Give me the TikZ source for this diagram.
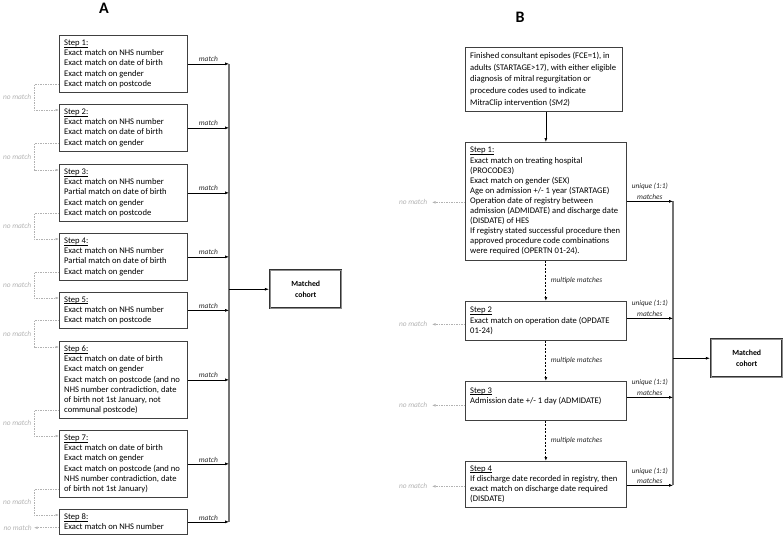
\documentclass[tikz,border=0pt]{standalone}
\usepackage{fontspec}
\setmainfont{Carlito}
\usetikzlibrary{arrows.meta,calc}
\newcommand{\stepul}[1]{\sbox0{#1}\rlap{\rule[-1.4pt]{\wd0}{0.45pt}}\usebox0}
\begin{document}
\begin{tikzpicture}[x=1pt,y=-1pt,
  box/.style={draw=black!75, line width=0.7pt, rectangle, anchor=north west, inner sep=0pt},
  txt/.style={anchor=west, align=left, inner xsep=5pt, inner ysep=0pt, font=\fontsize{8.6}{10.1}\selectfont},
  txtwide/.style={txt, font=\fontsize{8.6}{11.6}\selectfont},
  lab/.style={font=\fontsize{7.4}{10.5}\selectfont\itshape, inner sep=1.5pt},
  nmlab/.style={lab, text=black!30},
  arr/.style={-{Latex[length=4pt,width=3pt]}, line width=0.6pt, draw=black},
  darr/.style={arr, dash pattern=on 2pt off 1.5pt, line width=0.8pt},
  nm/.style={-{Latex[length=3.5pt,width=2.5pt]}, draw=black!30, line width=0.5pt, dash pattern=on 1.5pt off 1pt},
  spine/.style={draw=black!55, line width=1.2pt},
  cohort/.style={draw=black!80, line width=0.5pt, double=black!45, double distance=1.4pt, minimum width=71pt, minimum height=38pt, anchor=north west, align=center, font=\fontsize{7.8}{11}\selectfont\bfseries},
  panel/.style={font=\fontsize{16}{16}\selectfont\bfseries}
]
\useasboundingbox (0,0) rectangle (784,535);

% ---------------- Panel A ----------------
\node[panel] (labA) at (104,8) {A};

\node[box, minimum width=128pt, minimum height=57pt] (a1) at (59,35) {};
\node[txt] (a1t) at (a1.west) {\stepul{Step 1:}\\Exact match on NHS number\\Exact match on date of birth\\Exact match on gender\\Exact match on postcode};
\node[box, minimum width=128pt, minimum height=47pt] (a2) at (59,104) {};
\node[txt] (a2t) at (a2.west) {\stepul{Step 2:}\\Exact match on NHS number\\Exact match on date of birth\\Exact match on gender};
\node[box, minimum width=128pt, minimum height=57pt] (a3) at (59,164) {};
\node[txt] (a3t) at (a3.west) {\stepul{Step 3:}\\Exact match on NHS number\\Partial match on date of birth\\Exact match on gender\\Exact match on postcode};
\node[box, minimum width=128pt, minimum height=47pt] (a4) at (59,233) {};
\node[txt] (a4t) at (a4.west) {\stepul{Step 4:}\\Exact match on NHS number\\Partial match on date of birth\\Exact match on gender};
\node[box, minimum width=128pt, minimum height=36pt] (a5) at (59,292) {};
\node[txt] (a5t) at (a5.west) {\stepul{Step 5:}\\Exact match on NHS number\\Exact match on postcode};
\node[box, minimum width=128pt, minimum height=77pt] (a6) at (59,341) {};
\node[txt] (a6t) at (a6.west) {\stepul{Step 6:}\\Exact match on date of birth\\Exact match on gender\\Exact match on postcode (and no\\NHS number contradiction, date\\of birth not 1st January, not\\communal postcode)};
\node[box, minimum width=128pt, minimum height=67pt] (a7) at (59,430) {};
\node[txt] (a7t) at (a7.west) {\stepul{Step 7:}\\Exact match on date of birth\\Exact match on gender\\Exact match on postcode (and no\\NHS number contradiction, date\\of birth not 1st January)};
\node[box, minimum width=128pt, minimum height=25pt] (a8) at (59,509) {};
\node[txt] (a8t) at (a8.west) {\stepul{Step 8:}\\Exact match on NHS number};

\node[cohort] (mA) at (270,270) {Matched\\cohort};

\coordinate (vA) at (229,0);
\draw[spine] (a1.east -| vA) -- (a8.east -| vA);
\foreach \i in {1,...,8}
  \draw[arr] (a\i.east) -- (a\i.east -| vA) node[midway, above, lab, text=black!85] {match};
\draw[arr, shorten >=1.2pt] (mA.west -| vA) -- (mA.west);

\foreach \i/\j in {1/2,2/3,3/4,4/5,5/6,6/7,7/8}
  \draw[nm] ([yshift=8pt]a\i.south west) -- ++(-25,0) |- ([yshift=-6pt]a\j.north west)
    node[pos=0.25, nmlab, left=1pt] {no match};
\draw[nm] ([yshift=7pt]a8.south west) -- ++(-25,0) node[nmlab, left=0.5pt] {no match};

% ---------------- Panel B ----------------
\node[panel] (labB) at (520,17) {B};

\node[box, minimum width=157pt, minimum height=64pt] (fce) at (465,47) {};
\node[txtwide] (fcet) at (fce.west) {Finished consultant episodes (FCE=1), in\\adults (STARTAGE>17), with either eligible\\diagnosis of mitral regurgitation or\\procedure codes used to indicate\\MitraClip intervention (\textit{SM2})};

\node[box, minimum width=161pt, minimum height=118pt] (b1) at (465,142) {};
\node[txt] (b1t) at (b1.west) {\stepul{Step 1:}\\Exact match on treating hospital\\(PROCODE3)\\Exact match on gender (SEX)\\Age on admission +/- 1 year (STARTAGE)\\Operation date of registry between\\admission (ADMIDATE) and discharge date\\(DISDATE) of HES\\If registry stated successful procedure then\\approved procedure code combinations\\were required (OPERTN 01-24).};
\node[box, minimum width=161pt, minimum height=39pt] (b2) at (465,301) {};
\node[txt] (b2t) at (b2.west) {\stepul{Step 2}\\Exact match on operation date (OPDATE\\01-24)};
\node[box, minimum width=161pt, minimum height=39pt] (b3) at (465,381) {};
\node[txt] (b3t) at (b3.west) {\stepul{Step 3}\\Admission date +/- 1 day (ADMIDATE)\\~};
\node[box, minimum width=161pt, minimum height=46pt] (b4) at (465,461) {};
\node[txt] (b4t) at (b4.west) {\stepul{Step 4}\\If discharge date recorded in registry, then\\exact match on discharge date required\\(DISDATE)};

\node[cohort] (mB) at (711,339) {Matched\\cohort};

\draw[arr] (fce.south -| b1.north) -- (b1.north);
\draw[darr] (b1.south) -- (b2.north) node[midway, right=3pt, lab, text=black!85] {multiple matches};
\draw[darr] (b2.south) -- (b3.north) node[midway, right=3pt, lab, text=black!85] {multiple matches};
\draw[darr] (b3.south) -- (b4.north) node[midway, right=3pt, lab, text=black!85] {multiple matches};

\coordinate (vB) at (673,0);
\coordinate (e1) at (b1.east);
\coordinate (e2) at ([yshift=2.5pt]b2.east);
\coordinate (e3) at ([yshift=3.5pt]b3.east);
\coordinate (e4) at ([yshift=-1pt]b4.east);
\draw[spine] (e1 -| vB) -- (e4 -| vB);
\foreach \i in {1,...,4}
  \draw[arr] (e\i) -- (e\i -| vB) node[midway, above, lab, align=center, text=black!85] {unique (1:1)\\matches};
\draw[arr, shorten >=1.2pt] (mB.west -| vB) -- (mB.west);

\draw[nm] ([yshift=-1pt]b1.west) -- ++(-33,0) node[nmlab, left=3pt] {no match};
\draw[nm] ([yshift=-3.5pt]b2.west) -- ++(-33,0) node[nmlab, left=3pt] {no match};
\draw[nm] ([yshift=-4.5pt]b3.west) -- ++(-33,0) node[nmlab, left=3pt] {no match};
\draw[nm] ([yshift=-2pt]b4.west) -- ++(-33,0) node[nmlab, left=3pt] {no match};
\end{tikzpicture}
\end{document}
